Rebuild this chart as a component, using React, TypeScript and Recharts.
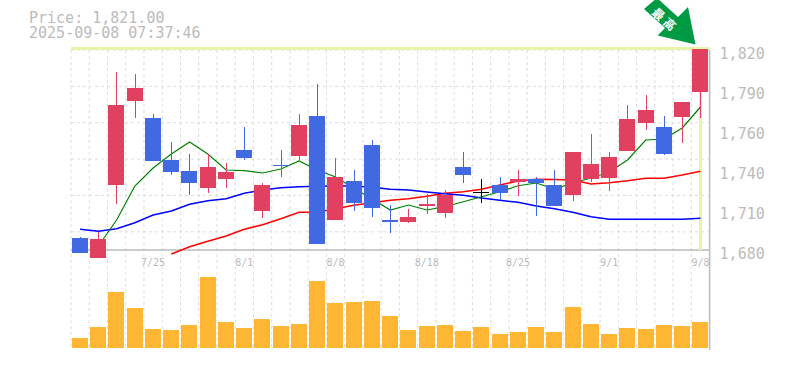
import React from "react";
import { ComposedChart, Bar, Line, XAxis, YAxis, CartesianGrid, ReferenceLine } from "recharts";

const dates = ["7/18","7/22","7/23","7/24","7/25","7/28","7/29","7/30","7/31","8/1","8/4","8/5","8/6","8/7","8/8","8/12","8/13","8/14","8/15","8/18","8/19","8/20","8/21","8/22","8/25","8/26","8/27","8/28","8/29","9/1","9/2","9/3","9/4","9/5","9/8"];
const tickDates = ["7/25","8/1","8/8","8/18","8/25","9/1","9/8"];
const priceTicks = [1680,1708,1736,1764,1792,1820];
const opens = [1688.4,1674.6,1725.7,1784.5,1772.4,1743,1735.3,1723.6,1729.9,1750,1707.5,1739.7,1746,1773.8,1701.2,1728.3,1753.5,1701,1699.6,1710.8,1706.1,1738.1,1720.9,1725.5,1727.6,1729.7,1725.5,1718.7,1729.9,1730.6,1749.5,1769.1,1766.1,1773.1,1790.8];
const closes = [1678.1,1687.7,1781.5,1793.4,1742.5,1734.8,1727.1,1738.1,1734.6,1744.4,1725.5,1738.8,1767.5,1684.4,1731.1,1713.1,1709.6,1699.8,1703.1,1712.2,1718.7,1732.7,1720.9,1720.1,1729.5,1727.1,1710.8,1748.6,1740.2,1745.1,1771.7,1778,1747.4,1783.6,1821];
const highs = [1689.1,1692.8,1804.6,1803.2,1775.2,1755.6,1747.2,1747.2,1740.9,1766.3,1726.9,1750,1775.2,1796.2,1744.4,1736,1757,1711.5,1708.7,1719.2,1722,1748.6,1729.7,1731.1,1736,1731.1,1736,1748.6,1761.2,1748.6,1781.5,1788.5,1773.8,1783.6,1821];
const lows = [1678.1,1674.6,1712.4,1772.6,1742.5,1732.7,1718.7,1720.1,1723.6,1743,1702.6,1731.1,1741.8,1684.4,1701.2,1707.5,1703.3,1692.1,1698.9,1705.4,1702.6,1727.1,1713.1,1715,1718,1704,1710.8,1714.5,1727.8,1721.5,1749.5,1764,1746.5,1755.1,1772.6];
const maShort = [null,1682.8,1701,1724.8,1737.4,1747.2,1755.6,1747.2,1736,1735.5,1733.9,1736.7,1742.3,1736,1731.1,1723.4,1715.7,1708,1711.5,1708,1710.3,1713.8,1717.3,1720.8,1725,1726.9,1722.7,1726.9,1730.4,1734.6,1743,1757,1757.7,1765.4,1780.1];
const maMid = [1694.5,1693.1,1694.9,1699.1,1704.5,1707.3,1712,1714.5,1715.9,1719.7,1722,1723.6,1724.3,1724.6,1724.8,1724.8,1723.9,1722.5,1722,1720.6,1719.4,1718.3,1716.4,1714.8,1713.4,1710.8,1708.9,1706.4,1703.3,1701.5,1701.5,1701.5,1701.5,1701.5,1702.2];
const maLong = [null,null,null,null,null,1677.2,1682.3,1686.1,1689.8,1694.5,1697.7,1701.9,1706.4,1706.4,1708.9,1711.3,1713.1,1714.8,1715.9,1717.6,1719.7,1720.8,1722.5,1725.5,1728.3,1729.5,1729.3,1729,1726.2,1727.1,1728.5,1730.2,1730.2,1732.5,1735.1];
const volumes = [10,21,56,40,19,18,23,71,26,20,29,22,24,67,45,46,47,32,18,22,23,17,21,14,16,21,16,41,24,14,20,19,23,22,26];

const lastPrice = 1821;
const lastDate = "9/8";
const basePrice = 1680;
const GRID = "#dddddd";
const AXIS = "#bbbbbb";
const MONO = "'DejaVu Sans Mono', monospace";

const rows = dates.map((date, i) => ({
  date,
  open: opens[i],
  close: closes[i],
  high: highs[i],
  low: lows[i],
  range: [lows[i], highs[i]],
  short: maShort[i],
  mid: maMid[i],
  long: maLong[i],
  volume: volumes[i] * 1000,
}));

const Candle = (props: any) => {
  const { x, y, width, height, payload } = props;
  const top = height >= 0 ? y : y + height;
  const h = Math.abs(height);
  const { open, close, high, low } = payload;
  const span = high - low || 1;
  const toPx = (p: number) => top + ((high - p) / span) * h;
  const color = close > open ? "#e24060" : close < open ? "#4169e1" : "#000000";
  const bodyTop = toPx(Math.max(open, close));
  const bodyBottom = toPx(Math.min(open, close));
  const cx = Math.round(x + width / 2);
  return (
    <g shapeRendering="crispEdges">
      <rect x={cx - 0.5} y={top} width={1} height={h} fill={color} />
      <rect x={x} y={bodyTop} width={width} height={Math.max(bodyBottom - bodyTop, 1)} fill={color} />
    </g>
  );
};

const PriceTick = (props: any) => {
  const { x, y, payload } = props;
  const label = (Math.round(payload.value / 10) * 10).toLocaleString("en-US");
  return (
    <text x={x + 2} y={y + 9} fontFamily={MONO} fontSize={15} fill={AXIS}>{label}</text>
  );
};

const DateTick = (props: any) => {
  const { x, y, payload } = props;
  return (
    <text x={x} y={y - 2} textAnchor="middle" fontFamily={MONO} fontSize={10} fill={AXIS}>{payload.value}</text>
  );
};

const vertical = ({ offset }: any) =>
  Array.from({ length: 36 }, (_, i) => offset.left + (i * offset.width) / 35);
const horizontalValues = Array.from({ length: 12 }, (_, i) => 1680 + (i * 140) / 11);

const layer: React.CSSProperties = { position: "absolute", left: 0, top: 0 };
const PLOT_LEFT = 71;
const AXIS_W = 75.4;

export default function App() {
  return (
    <div style={{ position: "absolute", left: 0, top: 0, width: 785, height: 370, overflow: "hidden", background: "#fff" }}>
      <div style={layer}>
        <ComposedChart width={785} height={351} data={rows} margin={{ top: 50, right: 0, bottom: 1, left: PLOT_LEFT }}>
          <CartesianGrid stroke={GRID} strokeDasharray="3 3" horizontal={false} verticalCoordinatesGenerator={vertical} />
          <XAxis dataKey="date" height={0} tick={false} tickLine={false} stroke={AXIS} strokeWidth={1.5} />
          <YAxis orientation="right" width={AXIS_W} domain={[-2000, 298000]} tick={false} tickLine={false} stroke={AXIS} strokeWidth={1.5} />
          <Bar dataKey="volume" barSize={16} fill="#ffb733" isAnimationActive={false} shapeRendering="crispEdges" />
        </ComposedChart>
      </div>
      <div style={layer}>
        <ComposedChart width={785} height={285} data={rows} margin={{ top: 45, right: 0, bottom: 0, left: PLOT_LEFT }}>
          <CartesianGrid stroke={GRID} strokeDasharray="3 3" vertical={false} horizontalValues={horizontalValues} />
          <XAxis dataKey="date" height={25} ticks={tickDates} interval={0} tick={<DateTick />} tickLine={false} axisLine={false} />
          <YAxis orientation="right" width={AXIS_W} domain={[1673, 1823.5]} ticks={priceTicks} tick={<PriceTick />} tickLine={false} axisLine={false} />
          <ReferenceLine y={basePrice} stroke={AXIS} strokeWidth={1.5} zIndex={50} />
          <ReferenceLine y={lastPrice} stroke="#e6f5a8" strokeWidth={3} zIndex={50} />
          <ReferenceLine segment={[{ x: lastDate, y: basePrice }, { x: lastDate, y: lastPrice }]} stroke="#e6f5a8" strokeWidth={3} zIndex={50} />
          <Line dataKey="long" stroke="#ff0000" strokeWidth={1.5} dot={false} activeDot={false} isAnimationActive={false} zIndex={100} />
          <Line dataKey="mid" stroke="#0000ff" strokeWidth={1.5} dot={false} activeDot={false} isAnimationActive={false} zIndex={100} />
          <Line dataKey="short" stroke="#008000" strokeWidth={1.2} dot={false} activeDot={false} isAnimationActive={false} zIndex={100} />
          <Bar dataKey="range" barSize={16} shape={<Candle />} isAnimationActive={false} />
        </ComposedChart>
      </div>
      <svg width={785} height={370} style={{ ...layer, pointerEvents: "none" }}>
        <text x={29} y={23} fontFamily={MONO} fontSize={15} fill={AXIS}>Price: 1,821.00</text>
        <text x={29} y={38} fontFamily={MONO} fontSize={15} fill={AXIS}>2025-09-08 07:37:46</text>
        <polygon points="644,9 657,-2 678,17 688,7 695.5,44.5 657.7,35.5 665,28" fill="#009944" />
        <g transform="translate(660,14) rotate(42)">
          <text x={-1} y={0} textAnchor="middle" dominantBaseline="central" fontFamily="'Noto Sans CJK JP'" fontWeight={700} fontSize={12} fill="#ffffff">最</text>
          <text x={14} y={0} textAnchor="middle" dominantBaseline="central" fontFamily="'Noto Sans CJK JP'" fontWeight={700} fontSize={12} fill="#ffffff">高</text>
        </g>
      </svg>
    </div>
  );
}
